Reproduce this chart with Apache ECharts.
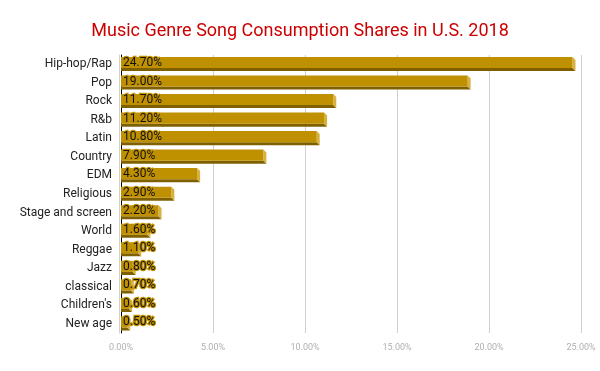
<!DOCTYPE html>
<html><head><meta charset="utf-8">
<script src="https://cdn.jsdelivr.net/npm/echarts@6/dist/echarts.min.js"></script>
<style>html,body{margin:0;padding:0;background:#fff}#c{width:600px;height:371px}</style>
</head><body><div id="c"></div>
<script>
const categories = ['Hip-hop/Rap','Pop','Rock','R&b','Latin','Country','EDM','Religious','Stage and screen','World','Reggae','Jazz','classical',"Children's",'New age'];
const shares = [24.7,19.0,11.7,11.2,10.8,7.9,4.3,2.9,2.2,1.6,1.1,0.8,0.7,0.6,0.5];
const xTicks = [0,5,10,15,20,25];

const chart = echarts.init(document.getElementById('c'));
const FRONT='#bf9000', BOTTOM='#7f6000', SIDE='#d8b03f';
chart.setOption({
  backgroundColor:'#fff',
  animation:false,
  title:{text:'Music Genre Song Consumption Shares in U.S. 2018',left:'center',top:17,
    textStyle:{color:'#cc0000',fontFamily:'Roboto',fontSize:18,fontWeight:'normal'}},
  grid:{left:121,right:19,top:55,bottom:38},
  xAxis:{type:'value',min:xTicks[0],max:xTicks[xTicks.length-1],interval:5,
    axisLine:{show:false},axisTick:{show:false},
    splitLine:{lineStyle:{color:'#d0d0d0',width:1}},
    axisLabel:{color:'#b0b0b0',fontFamily:'Roboto',fontSize:9,margin:10,formatter:v=>v.toFixed(2)+'%'}},
  yAxis:{type:'category',data:categories,inverse:true,
    axisLine:{show:true,lineStyle:{color:'#000',width:1,shadowColor:'#d0d0d0',shadowOffsetX:-2,shadowBlur:0}},
    axisTick:{show:false},
    axisLabel:{color:'#222',fontFamily:'Roboto',fontSize:12,margin:9}},
  series:[{
    type:'custom',
    data:shares.map((v,i)=>[v,i]),
    encode:{x:0,y:1},
    renderItem:function(params,api){
      const v=api.value(0), i=api.value(1);
      const p0=api.coord([0,i]);
      const p1=api.coord([v,i]);
      const band=api.size([0,1])[1];
      const d=3, h=band*0.6;
      const x0=p0[0], x1=p1[0];
      const yTop=p1[1]-(h+d)/2-0.3;
      const xf=x1-d;
      return {type:'group',children:[
        {type:'polygon',shape:{points:[[x0,yTop+h],[xf,yTop+h],[x1,yTop+h+d],[x0,yTop+h+d]]},style:{fill:BOTTOM}},
        {type:'polygon',shape:{points:[[xf,yTop],[x1,yTop+d],[x1,yTop+h+d],[xf,yTop+h]]},style:{fill:SIDE}},
        {type:'rect',shape:{x:x0,y:yTop,width:xf-x0,height:h},style:{fill:FRONT}},
        {type:'text',x:x0+2,y:yTop+h/2+0.5,style:{text:v.toFixed(2)+'%',fill:'#111',fontFamily:'Roboto',fontSize:12,
          textVerticalAlign:'middle',verticalAlign:'middle',align:'left',stroke:FRONT,lineWidth:2.5}}
      ]};
    }
  }]
});
</script></body></html>
